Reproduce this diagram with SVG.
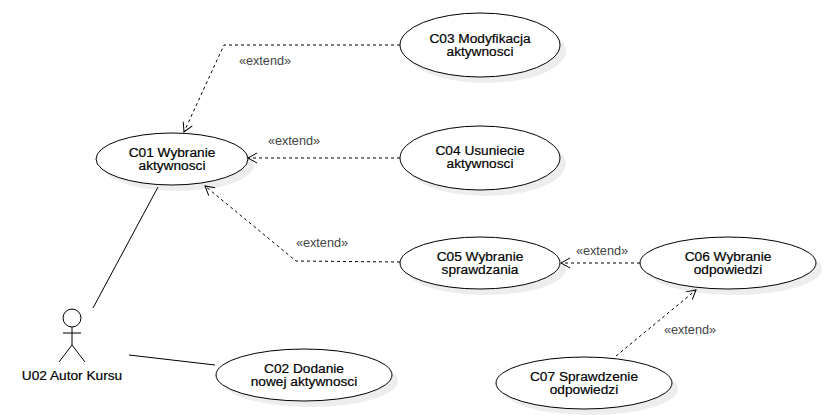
<svg xmlns="http://www.w3.org/2000/svg" width="839" height="419" viewBox="0 0 839 419">
<style>
text{font-family:"Liberation Sans",Arial,sans-serif;font-size:13.7px;text-anchor:middle;fill:#000}
.n{stroke:#000;stroke-width:.2px}
.l{fill:#444;font-size:12.7px}
.u{fill:#fff;stroke:#000;stroke-width:1}
.s{fill:#000;opacity:.07}
.d{fill:none;stroke:#000;stroke-width:1;stroke-dasharray:3 3}
.a{fill:none;stroke:#000;stroke-width:1}
</style>
<defs><marker id="o" markerUnits="userSpaceOnUse" markerWidth="14" markerHeight="14" refX="12" refY="7" orient="auto"><path d="M3 2L12 7L3 12" fill="none" stroke="#000"/></marker></defs>
<rect width="839" height="419" fill="#fff"/>
<g id="connectors">
<path class="d" marker-end="url(#o)" d="M400 45H224L184 132"/>
<path class="d" marker-end="url(#o)" d="M400 158H248"/>
<path class="d" marker-end="url(#o)" d="M400 262L296 261L205 186"/>
<path class="d" marker-end="url(#o)" d="M640 263H561"/>
<path class="d" marker-end="url(#o)" d="M616 356L696 290"/>
<path class="a" d="M158 187L93 308"/>
<path class="a" d="M129 355L215 365"/>
<text class="l" x="265" y="65">«extend»</text>
<text class="l" x="294" y="145">«extend»</text>
<text class="l" x="322" y="247">«extend»</text>
<text class="l" x="602" y="255">«extend»</text>
<text class="l" x="690" y="334">«extend»</text>
</g>
<g id="C01"><ellipse class="s" cx="178" cy="165" rx="76" ry="26"/><ellipse class="u" cx="172" cy="159" rx="76" ry="26"/><text class="n"><tspan x="172" y="157">C01 Wybranie</tspan><tspan x="172" y="170">aktywnosci</tspan></text></g>
<g id="C02"><ellipse class="s" cx="310" cy="381" rx="88" ry="26"/><ellipse class="u" cx="304" cy="375" rx="88" ry="26"/><text class="n"><tspan x="304" y="373">C02 Dodanie</tspan><tspan x="304" y="386">nowej aktywnosci</tspan></text></g>
<g id="C03"><ellipse class="s" cx="486" cy="51" rx="80" ry="32"/><ellipse class="u" cx="480" cy="45" rx="80" ry="32"/><text class="n"><tspan x="480" y="43">C03 Modyfikacja</tspan><tspan x="480" y="56">aktywnosci</tspan></text></g>
<g id="C04"><ellipse class="s" cx="486" cy="164" rx="80" ry="32"/><ellipse class="u" cx="480" cy="158" rx="80" ry="32"/><text class="n"><tspan x="480" y="155">C04 Usuniecie</tspan><tspan x="480" y="168">aktywnosci</tspan></text></g>
<g id="C05"><ellipse class="s" cx="486" cy="269" rx="80" ry="26"/><ellipse class="u" cx="480" cy="263" rx="80" ry="26"/><text class="n"><tspan x="480" y="261">C05 Wybranie</tspan><tspan x="480" y="274">sprawdzania</tspan></text></g>
<g id="C06"><ellipse class="s" cx="734" cy="269" rx="88" ry="26"/><ellipse class="u" cx="728" cy="263" rx="88" ry="26"/><text class="n"><tspan x="728" y="261">C06 Wybranie</tspan><tspan x="728" y="274">odpowiedzi</tspan></text></g>
<g id="C07"><ellipse class="s" cx="590" cy="389" rx="88" ry="26"/><ellipse class="u" cx="584" cy="383" rx="88" ry="26"/><text class="n"><tspan x="584" y="381">C07 Sprawdzenie</tspan><tspan x="584" y="394">odpowiedzi</tspan></text></g>
<g id="U02" class="a"><circle cx="72" cy="318" r="9"/><path d="M72 327V345M63 333H81M72 345L59 362M72 345L85 362"/><text class="n" x="72" y="380">U02 Autor Kursu</text></g>
</svg>
